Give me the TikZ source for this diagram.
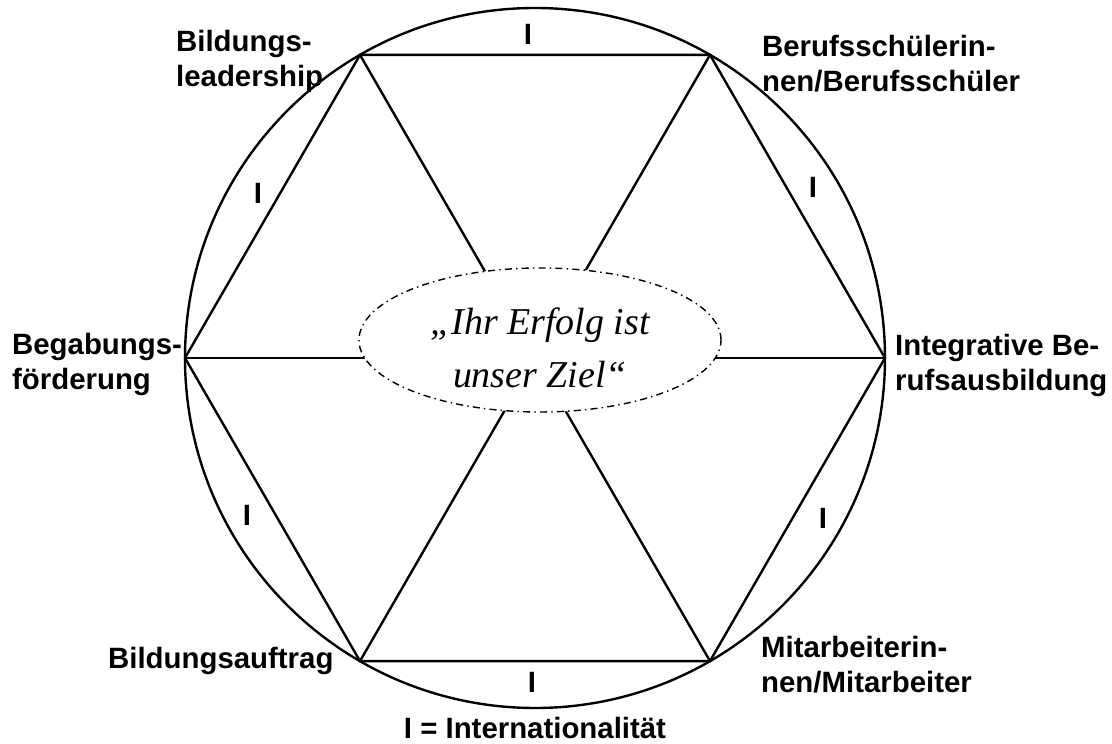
\documentclass[tikz,border=0pt]{standalone}
\usepackage{fontspec}
\setmainfont{Liberation Sans}
\newfontfamily\quotefont{Liberation Serif}
\usepackage{tikz}
\usetikzlibrary{shapes.geometric}

\begin{document}
\begin{tikzpicture}[
    line width=1.7pt,
    lbl/.style={font=\fontsize{20.9}{25}\selectfont\bfseries, align=left, inner sep=0pt, anchor=north west},
    imark/.style={font=\fontsize{20.9}{25}\selectfont\bfseries, inner sep=0pt}
  ]
  \useasboundingbox (-13.375,8.95) rectangle (14.425,-9.65);

  % Circle and hexagon
  \coordinate (mid) at (0,0);
  \foreach \i in {0,...,5} \coordinate (v\i) at (60*\i:8.75);
  \draw (mid) circle (8.75);
  \draw (v0) -- (v1) -- (v2) -- (v3) -- (v4) -- (v5) -- cycle;
  \foreach \i in {0,...,5} \draw (v\i) -- (mid);

  % Goal
  \node[ellipse, draw, fill=white, line width=1pt,
        dash pattern=on 5pt off 3pt on 1pt off 3pt,
        minimum width=9.05cm, minimum height=3.6cm, inner sep=0pt,
        font=\quotefont\itshape\fontsize{27}{38}\selectfont, align=center]
    (ziel) at (0.125,0.45) {\rule{0pt}{30pt}„Ihr Erfolg ist\\unser Ziel“};

  % Labels
  \node[lbl] (lead) at (-9.0,8.225) {Bildungs-\\leadership};
  \node[lbl] (schueler) at (5.65,8.1) {Berufsschülerin-\\nen/Berufsschüler};
  \node[lbl] (begab) at (-13.1,0.65) {Begabungs-\\förderung};
  \node[lbl] (integr) at (8.975,0.625) {Integrative Be-\\rufsausbildung};
  \node[lbl] (auftrag) at (-10.7,-7.2) {Bildungsauftrag};
  \node[lbl] (mitarb) at (5.625,-6.925) {Mitarbeiterin-\\nen/Mitarbeiter};
  \node[lbl, anchor=north] (legende) at (0,-8.95) {I = Internationalität};

  % I marks
  \node[imark] (i1) at (-0.175,8.1) {I};
  \node[imark] (i2) at (6.95,4.275) {I};
  \node[imark] (i3) at (7.2,-4.0) {I};
  \node[imark] (i4) at (-0.075,-8.1) {I};
  \node[imark] (i5) at (-7.2,-3.925) {I};
  \node[imark] (i6) at (-6.925,4.125) {I};
\end{tikzpicture}
\end{document}
